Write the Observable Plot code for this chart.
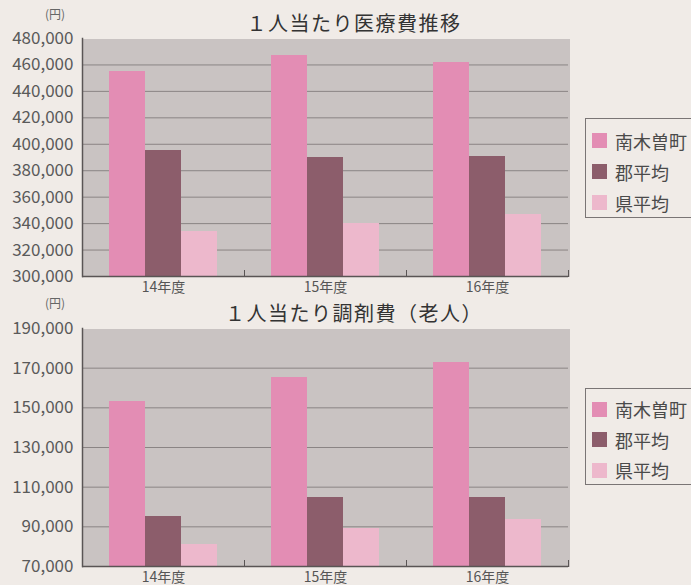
<!DOCTYPE html>
<html>
<head>
<meta charset="utf-8">
<script src="https://cdn.jsdelivr.net/npm/d3@7"></script>
<script src="https://cdn.jsdelivr.net/npm/@observablehq/plot@0.6"></script>
<style>
  html, body { margin: 0; padding: 0; background: #f0ebe7; }
  #page { position: relative; width: 691px; height: 585px; overflow: hidden; font-family: "Noto Sans CJK JP", "Noto Sans", sans-serif; }
  .chart { position: absolute; left: 0; }
  .title { position: absolute; left: 0; width: 708px; text-align: center; font-size: 20px; line-height: 20px; color: #333; letter-spacing: 1.5px; }
  .unit { position: absolute; left: 45px; font-size: 12px; line-height: 12px; color: #666; }
  .legend { position: absolute; left: 585px; width: 120px; border: 1px solid #7a7575; box-sizing: border-box; }
  .legend .row { display: flex; align-items: center; font-size: 18px; color: #4a4a4a; }
  .legend .sw { width: 15px; height: 15px; margin-left: 6px; margin-right: 8px; }
</style>
</head>
<body>
<div id="page">
  <div class="title" style="top:13px">１人当たり医療費推移</div>
  <div class="unit" style="top:8px">(円)</div>
  <div class="chart" id="c1" style="top:0px"></div>
  <div class="legend" id="l1" style="top:118px;height:100px;padding-top:6px"></div>

  <div class="title" style="top:303px">１人当たり調剤費（老人）</div>
  <div class="unit" style="top:297px">(円)</div>
  <div class="chart" id="c2" style="top:290px"></div>
  <div class="legend" id="l2" style="top:388px;height:97px;padding-top:5px"></div>
</div>
<script>
// ---- data ----
const years = ["14年度", "15年度", "16年度"];
const series = ["南木曽町", "郡平均", "県平均"];
const colors = ["#e38db4", "#8c5d6b", "#edb8cc"];

// 1人当たり医療費推移 (円)
const medNagiso = [455000, 467000, 462000];
const medGun    = [395000, 390000, 390500];
const medKen    = [334000, 340000, 347000];

// 1人当たり調剤費（老人） (円)
const drugNagiso = [153000, 165500, 173000];
const drugGun    = [95000, 105000, 105000];
const drugKen    = [81000, 89000, 93500];

const medTicks  = [300000, 320000, 340000, 360000, 380000, 400000, 420000, 440000, 460000, 480000];
const drugTicks = [70000, 90000, 110000, 130000, 150000, 170000, 190000];

// ---- styles ----
const plotBg = "#c9c3c2";
const gridColor = "#8a8484";
const axisColor = "#5a5555";

function toRows(vals) {
  return years.flatMap((yr, i) => series.map((s, j) => ({year: yr, series: s, value: vals[j][i]})));
}

function chart(vals, ticks, height, marginBottom) {
  const marginTop = 38;
  const innerH = height - marginTop - marginBottom;
  const lo = ticks[0], hi = ticks[ticks.length - 1];
  return Plot.plot({
    width: 691, height, marginTop, marginBottom, marginLeft: 82, marginRight: 123,
    style: "background: transparent; overflow: visible; font-family: 'Noto Sans CJK JP', 'Noto Sans', sans-serif;",
    fx: {domain: years, padding: 0},
    x: {domain: series, paddingInner: 0, paddingOuter: 0.75, axis: null},
    y: {domain: [lo, hi], axis: null},
    color: {domain: series, range: colors},
    marks: [
      Plot.frame({fill: plotBg, insetRight: -1, shapeRendering: "crispEdges"}),
      Plot.ruleY(ticks.slice(1, -1), {stroke: gridColor, strokeWidth: 1}),
      Plot.barY(toRows(vals), {fx: "year", x: "series", y1: lo, y2: "value", fill: "series", shapeRendering: "crispEdges"}),
      Plot.ruleY([lo], {stroke: axisColor, strokeWidth: 1.5}),
      Plot.frame({anchor: "left", stroke: axisColor, strokeWidth: 1.5, fx: years[0]}),
      Plot.frame({anchor: "right", stroke: axisColor, insetTop: innerH - 6}),
      Plot.axisY(ticks, {tickSize: 0, tickPadding: 9, tickFormat: d3.format(","), fontSize: 17, color: "#5a5a5a", label: null}),
      Plot.axisFx({anchor: "bottom", tickSize: 0, tickPadding: 6, fontSize: 14, color: "#555", label: null})
    ]
  });
}

document.getElementById("c1").append(chart([medNagiso, medGun, medKen], medTicks, 290, 14));
document.getElementById("c2").append(chart([drugNagiso, drugGun, drugKen], drugTicks, 295, 19));

function legend(id, rowH) {
  const el = document.getElementById(id);
  series.forEach((s, i) => {
    const row = document.createElement("div");
    row.className = "row";
    row.style.height = rowH + "px";
    const sw = document.createElement("span");
    sw.className = "sw";
    sw.style.background = colors[i];
    const t = document.createElement("span");
    t.textContent = s;
    row.append(sw, t);
    el.append(row);
  });
}
legend("l1", 31);
legend("l2", 30.5);
</script>
</body>
</html>
